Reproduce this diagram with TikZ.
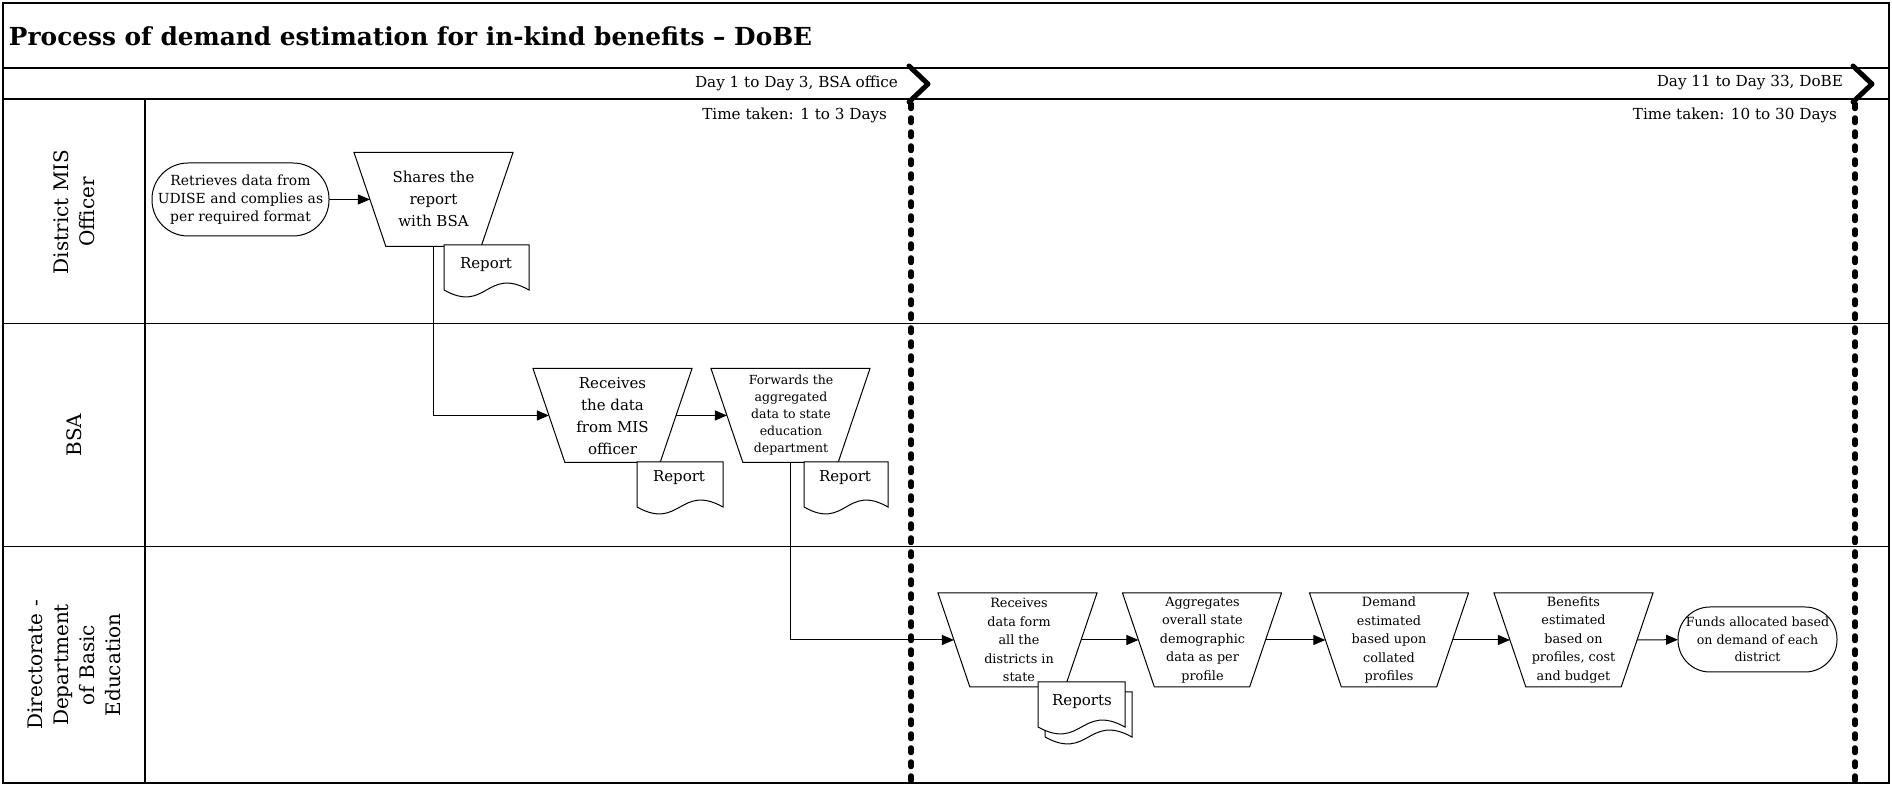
\documentclass[tikz,border=0pt]{standalone}
\usepackage{fontspec}
\setmainfont{DejaVu Serif}
\usetikzlibrary{shapes.geometric,arrows.meta}
\newcommand\docat[3]{\path[docshape] (#1,#2) -- ({#1+#3},#2) -- ({#1+#3},{#2+45}) .. controls ({#1+0.5*#3},{#2+21}) and ({#1+0.5*#3},{#2+69}) .. (#1,{#2+45}) -- cycle;}
\begin{document}
\begin{tikzpicture}[x=0.5pt,y=-0.5pt,
  every node/.style={inner sep=0pt,outer sep=0pt},
  frame/.style={line width=0.7pt},
  rule/.style={line width=0.6pt},
  proc/.style={draw,line width=0.5pt,fill=white,trapezium,shape border rotate=180,
    inner sep=1pt,
    trapezium left angle=71.5,trapezium right angle=71.5,trapezium stretches=true,
    minimum width=79.5pt,minimum height=47pt},
  termA/.style={draw,line width=0.5pt,fill=white,rectangle,rounded corners=18pt,
    minimum width=88.5pt,minimum height=36.5pt,align=center,font=\fontsize{6.95}{9}\selectfont},
  termB/.style={draw,line width=0.5pt,fill=white,rectangle,rounded corners=16pt,
    minimum width=79.5pt,minimum height=32.5pt,align=center,font=\fontsize{6.3}{8.8}\selectfont},
  conn/.style={line width=0.5pt,-{Triangle[length=6pt,width=5pt]}},
  docshape/.style={draw,line width=0.5pt,fill=white},
  phase/.style={line width=2.5pt,line join=round,line cap=round},
  divider/.style={line width=2.75pt,line cap=round,dash pattern=on 2.25pt off 4.75pt},
  ttl/.style={anchor=west,font=\bfseries\fontsize{12.4}{14}\selectfont},
  daytxt/.style={anchor=east,font=\fontsize{7.6}{9}\selectfont},
  lanetxt/.style={rotate=90,align=center,font=\fontsize{10}{13}\selectfont},
  tbig/.style={align=center,font=\fontsize{7.5}{11}\selectfont},
  tfw/.style={align=center,font=\fontsize{6.25}{8.5}\selectfont},
  tl3/.style={align=center,font=\fontsize{6.4}{9.25}\selectfont},
  tdoc/.style={font=\fontsize{7.5}{9}\selectfont}
]
\useasboundingbox (0,0) rectangle (1892,785);
% frame and swimlanes
\draw[frame] (3,3) rectangle (1889,783);
\draw[rule] (3,68) -- (1889,68);
\draw[rule] (3,99) -- (1889,99);
\draw[rule] (3,323.5) -- (1889,323.5);
\draw[rule] (3,546.5) -- (1889,546.5);
\draw[rule] (145,99) -- (145,783);
% title and phase labels
\node[ttl] (title) at (9,36) {Process of demand estimation for in-kind benefits – DoBE};
\node[daytxt] (ph1) at (898,83) {Day 1 to Day 3, BSA office};
\node[daytxt] (ph2) at (1843,83) {Day 11 to Day 33, DoBE};
\node[daytxt] (tt1) at (887,115) {Time taken: 1 to 3 Days};
\node[daytxt] (tt2) at (1837,115) {Time taken: 10 to 30 Days};
% phase chevrons and dividers
\draw[phase] (909,66) -- (928,84) -- (909,102);
\draw[phase] (1853,66) -- (1872,84) -- (1853,102);
\draw[divider] (911,104) -- (911,783);
\draw[divider] (1855,104) -- (1855,783);
% lane labels
\node[lanetxt] (lane1) at (74,212) {District MIS\\Officer};
\node[lanetxt] (lane2) at (74,435) {BSA};
\node[lanetxt] (lane3) at (74,665) {Directorate -\\Department\\of Basic\\Education};
% lane 1
\node[termA] (s1) at (240.5,199.5) {Retrieves data from\\UDISE and complies as\\per required format};
\node[proc] (t1) at (433.5,199.5) {};
\node[tbig] (t1l) at (433.5,199) {Shares the\\report\\with BSA};
% lane 2
\node[proc] (t2) at (612.5,415.5) {};
\node[tbig] (t2l) at (612.5,416) {Receives\\the data\\from MIS\\officer};
\node[proc] (t3) at (790.5,415.5) {};
\node[tfw] (t3l) at (791,415) {Forwards the\\aggregated\\data to state\\education\\department};
% lane 3
\node[proc] (u1) at (1017.5,640) {};
\node[tl3] (u1l) at (1019,640) {Receives\\data form\\all the\\districts in\\state};
\node[proc] (u2) at (1202,640) {};
\node[tl3] (u2l) at (1202.5,640) {Aggregates\\overall state\\demographic\\data as per\\profile};
\node[proc] (u3) at (1389,640) {};
\node[tl3] (u3l) at (1389,640) {Demand\\estimated\\based upon\\collated\\profiles};
\node[proc] (u4) at (1573.5,640) {};
\node[tl3] (u4l) at (1573.5,640) {Benefits\\estimated\\based on\\profiles, cost\\and budget};
\node[termB] (s2) at (1757.5,639.5) {Funds allocated based\\on demand of each\\district};
% connectors
\draw[conn] (s1) -- (t1);
\draw[conn] (t1.south) |- (t2);
\draw[conn] (t2) -- (t3);
\draw[conn] (t3.south) |- (u1);
\draw[conn] (u1) -- (u2);
\draw[conn] (u2) -- (u3);
\draw[conn] (u3) -- (u4);
\draw[conn] (u4) -- (s2);
% documents
\docat{444}{245}{85}
\node[tdoc] (d1) at (486,265) {Report};
\docat{637}{462}{86}
\node[tdoc] (d2) at (679,478) {Report};
\docat{804}{462}{84}
\node[tdoc] (d3) at (845,478) {Report};
\docat{1045}{692}{87}
\docat{1038}{682}{87}
\node[tdoc] (d4) at (1082,702) {Reports};
\end{tikzpicture}
\end{document}
